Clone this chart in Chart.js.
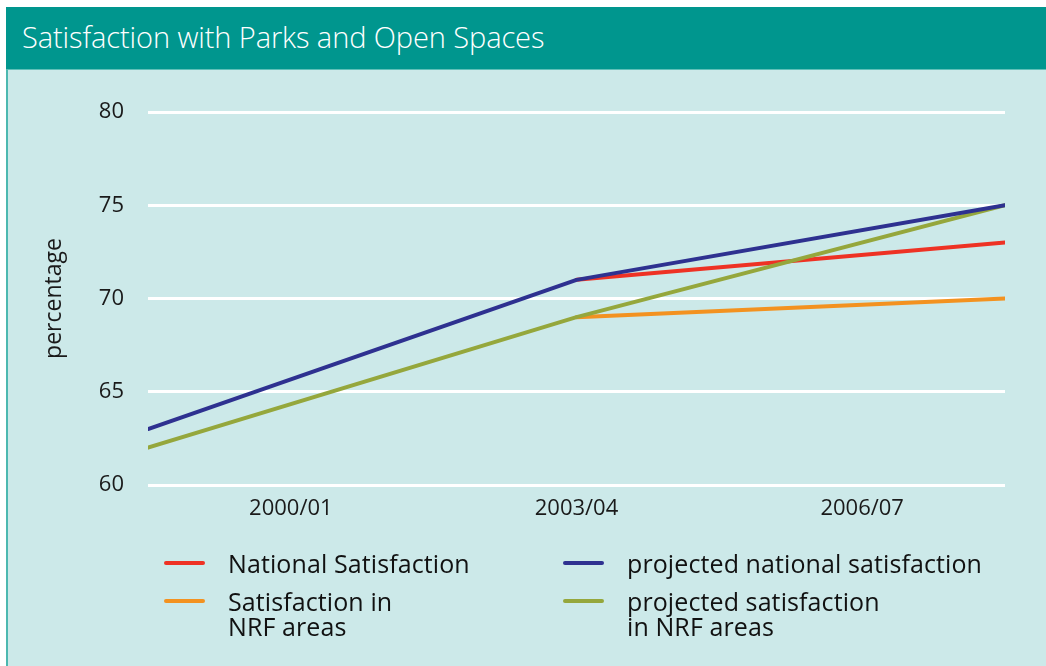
<!DOCTYPE html>
<html>
<head>
<meta charset="utf-8">
<script src="https://cdn.jsdelivr.net/npm/chart.js@4.4.0/dist/chart.umd.min.js"></script>
<style>
  body { margin: 0; background: #fff; font-family: "Open Sans", sans-serif; }
  #wrap { position: relative; width: 1046px; height: 666px; overflow: hidden; }
  #header { position: absolute; left: 6px; top: 7px; width: 1040px; height: 62px; background: #00968e; }
  #header h1 { margin: 0; position: absolute; left: 16px; top: 10px; font-size: 29px; font-weight: 300; color: #fff; letter-spacing: -0.1px; }
  #panel { position: absolute; left: 6px; top: 69px; width: 1040px; height: 597px; background: #cce9e9; border-left: 2px solid #4cb8b0; border-top: 1px solid #5fc0b8; box-sizing: border-box; }
  #chart { position: absolute; left: 0; top: 0; }
  .leg { position: absolute; font-size: 25px; line-height: 25px; color: #111; letter-spacing: 0.1px; }
  .sw { position: absolute; width: 41px; height: 4px; border-radius: 2px; }
</style>
</head>
<body>
<div id="wrap">
  <div id="header"><h1>Satisfaction with Parks and Open Spaces</h1></div>
  <div id="panel"></div>
  <canvas id="chart" width="1046" height="666"></canvas>
  <div id="legend"></div>
</div>
<script>
// periods on the x axis, each period is one unit wide
const periods = ['2000/01', '2003/04', '2006/07'];
// where the readings sit: start of 2000/01, middle of 2003/04, end of 2006/07
const readingX = [0, 1.5, 3];

const nationalSat = [null, 71, 73];
const nrfSat = [null, 69, 70];
const projNational = [63, 71, 75];
const projNrf = [62, 69, 75];

const yTicks = [60, 65, 70, 75, 80];

const seriesNames = ['National Satisfaction', 'Satisfaction in\nNRF areas', 'projected national satisfaction', 'projected satisfaction\nin NRF areas'];
const seriesColors = ['#ee3224', '#f39220', '#2e3190', '#95a73c'];

function pts(vals) {
    return vals.map((v, i) => ({ x: readingX[i], y: v }));
}

const allSeries = [nationalSat, nrfSat, projNational, projNrf];

var ctx = document.getElementById('chart').getContext('2d');
var chart = new Chart(ctx, {
    type: 'line',
    data: {
        datasets: allSeries.map((s, i) => ({
            label: seriesNames[i],
            data: pts(s),
            borderColor: seriesColors[i],
            borderWidth: 4,
            pointRadius: 0,
            borderCapStyle: 'round',
            borderJoinStyle: 'round',
            fill: false,
            tension: 0,
            order: i < 2 ? 1 : 0
        }))
    },
    options: {
        responsive: false,
        animation: false,
        devicePixelRatio: 1,
        layout: { padding: { left: 41, top: 112, right: 41, bottom: 141 } },
        plugins: { legend: { display: false }, tooltip: { enabled: false } },
        scales: {
            x: {
                type: 'linear',
                min: 0,
                max: 3,
                afterBuildTicks: function(axis) {
                    axis.ticks = periods.map((p, i) => ({ value: i + 0.5 }));
                },
                afterFit: function(axis) { axis.height = 40; },
                ticks: {
                    callback: function(v) { return periods[Math.floor(v)]; },
                    font: { family: 'Open Sans', size: 22 },
                    color: '#1a1a1a',
                    padding: 3,
                    maxRotation: 0
                },
                grid: { display: false },
                border: { display: false }
            },
            y: {
                min: 60,
                max: 80,
                afterBuildTicks: function(axis) {
                    axis.ticks = yTicks.map(v => ({ value: v }));
                },
                afterFit: function(axis) { axis.width = 107; },
                ticks: {
                    font: { family: 'Open Sans', size: 22 },
                    color: '#1a1a1a',
                    padding: 24
                },
                grid: { color: '#ffffff', lineWidth: 3, drawTicks: false },
                border: { display: false },
                title: {
                    display: true,
                    text: 'percentage',
                    font: { family: 'Open Sans', size: 23 },
                    color: '#1a1a1a',
                    padding: 0
                }
            }
        }
    }
});

// legend in two columns below the plot
var legendPos = [[164, 551], [164, 589], [563, 551], [563, 589]];
var legend = document.getElementById('legend');
seriesNames.forEach(function(name, i) {
    var sw = document.createElement('div');
    sw.className = 'sw';
    sw.style.background = seriesColors[i];
    sw.style.left = legendPos[i][0] + 'px';
    sw.style.top = (legendPos[i][1] + 10) + 'px';
    legend.appendChild(sw);
    var t = document.createElement('div');
    t.className = 'leg';
    t.style.left = (legendPos[i][0] + 64) + 'px';
    t.style.top = legendPos[i][1] + 'px';
    t.innerHTML = name.replace('\n', '<br>');
    legend.appendChild(t);
});
</script>
</body>
</html>
